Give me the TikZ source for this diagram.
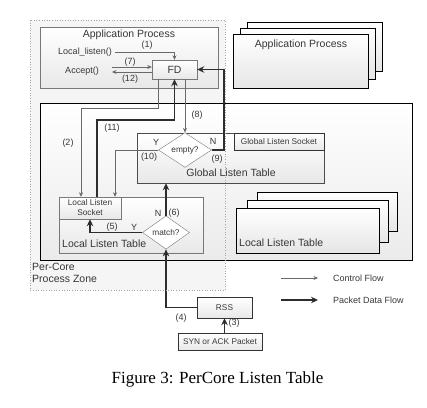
\documentclass[tikz,border=0pt]{standalone}
\usepackage{fontspec}
\setmainfont{Liberation Sans}
\newfontfamily\capfont{Liberation Serif}
\usepackage{tikz}
\usetikzlibrary{shapes.geometric, arrows.meta}
\definecolor{linegray}{RGB}{105,105,105}
\definecolor{boxgray}{RGB}{120,120,120}
\definecolor{txtgray}{RGB}{55,55,55}
\definecolor{datablack}{RGB}{45,45,45}
\newcommand{\figttl}{\fontsize{10.5}{12}\selectfont}
\newcommand{\figlbl}{\fontsize{9}{10}\selectfont}
\newcommand{\figsml}{\fontsize{8.3}{10}\selectfont}
\tikzstyle{box} = [rectangle, 
draw=boxgray, 
top color=white, 
bottom color=black!9, 
inner sep=0pt,
text=txtgray]
\tikzstyle{stackbox} = [rectangle, 
draw=black, 
top color=white, 
bottom color=black!10, 
inner sep=0pt]
\tikzstyle{decision} = [diamond, 
draw=boxgray, 
fill=white, 
inner sep=0pt, 
text=txtgray, 
font=\figsml]
\tikzstyle{lbl} = [text=txtgray, font=\figlbl, inner sep=0pt]
\tikzstyle{ctrl} = [-{Stealth[length=4.5pt, width=4pt]}, draw=linegray, line width=0.6pt]
\tikzstyle{data} = [-{Stealth[length=7pt, width=6.5pt]}, draw=datablack, line width=1.8pt]

\begin{document}
\begin{tikzpicture}[x=1pt, y=-1pt]
		\useasboundingbox (0,0) rectangle (427,407);
		\fill[black!4] (30,20) rectangle (225,290);
		% application side
		\node (app) [box, minimum width=178pt, minimum height=61pt] at (129,57.5) {};
		\node (appt) [lbl, font=\figttl] at (129,35) {Application Process};
		\node (fd) [box, minimum width=45pt, minimum height=19pt, font=\figttl] at (174.5,69.5) {FD};
		\node (lcall) [lbl] at (85,52) {Local\_listen()};
		\node (acall) [lbl] at (82,71) {Accept()};
		\coordinate (a7) at (112,67);
		\coordinate (a12) at (112,72);
		\node (app3) [stackbox, minimum width=135pt, minimum height=49pt] at (314.5,46.5) {};
		\node (app2) [stackbox, minimum width=135pt, minimum height=51pt] at (307.5,53.5) {};
		\node (app1) [stackbox, minimum width=135pt, minimum height=54pt] at (300.5,61) {};
		\node (app1t) [lbl, font=\figttl] at (301,45) {Application Process};
		% core tables
		\node (core) [rectangle, draw=black, top color=white, bottom color=black!8, minimum width=372pt, minimum height=157pt] at (226,181.5) {};
		\node (glt) [box, draw=black!70, minimum width=187pt, minimum height=50pt] at (230.5,158) {};
		\node (gltt) [lbl, font=\figttl] at (231,173) {Global Listen Table};
		\node (gls) [box, draw=black!80, anchor=north east, minimum width=90pt, minimum height=17pt, font=\figsml] at (glt.north east) {Global Listen Socket};
		\node (empty) [decision, minimum width=53pt, minimum height=22pt] at (185,150) {empty?};
		\node (llt) [box, minimum width=144pt, minimum height=56pt] at (131,225) {};
		\node (lltt) [lbl, font=\figttl, anchor=west] at (62,244) {Local Listen Table};
		\node (lls) [box, anchor=north west, minimum width=62pt, minimum height=22pt, align=center, font=\figsml] at (llt.north west) {Local Listen\\Socket};
		\node (match) [decision, minimum width=47pt, minimum height=25pt] at (166,232.5) {match?};
		\node (llt3) [stackbox, minimum width=140pt, minimum height=39pt] at (327.5,211.5) {};
		\node (llt2) [stackbox, minimum width=141pt, minimum height=42pt] at (317.5,221) {};
		\node (llt1) [stackbox, minimum width=143pt, minimum height=45pt] at (307.5,230.5) {};
		\node (llt1t) [lbl, font=\figttl, anchor=west] at (239,243) {Local Listen Table};
		% packet path
		\node (rss) [box, draw=black!80, minimum width=55pt, minimum height=21pt, font=\figsml] at (224.5,307.5) {RSS};
		\node (syn) [box, draw=black!80, minimum width=84pt, minimum height=17pt, font=\figsml] at (220,341.5) {SYN or ACK Packet};
		% legend
		\node (lgc) [lbl, anchor=west] at (333,278) {Control Flow};
		\node (lgd) [lbl, anchor=west] at (333,300) {Packet Data Flow};
		\coordinate (lgc0) at (281,278);
		\coordinate (lgd0) at (281,300);
		% control flow
		\draw [ctrl] ([xshift=3pt]lcall.east) -| (fd.north);
		\draw [ctrl] (a7) -- ([yshift=2.5pt]fd.west);
		\draw [ctrl] ([yshift=-2.5pt]fd.west) -- (a12);
		\coordinate (t2) at (158,108);
		\draw [ctrl] (fd.south -| t2) -- (t2) -| ([xshift=-9pt]lls.north);
		\draw [ctrl] (empty.north |- fd.south) -- (empty.north);
		\draw [ctrl] (empty.west) -| ([xshift=25pt]lls.north);
		\draw [ctrl] (lgc0) -- ([xshift=-15pt]lgc.west);
		% packet data flow
		\draw [data] (rss.south |- syn.north) -- (rss.south);
		\draw [data] (rss.west) -| (match.south);
		\draw [data] (match.west) -| (lls.south);
		\draw [data] (match.north) -- (match.north |- glt.south);
		\draw [data] (empty.east) -- ++(12,0) |- (fd.east);
		\coordinate (k11) at (174.5,120);
		\draw [data] ([xshift=7pt]lls.north) |- (k11) -- (fd.south);
		\draw [data] (lgd0) -- ([xshift=-15pt]lgd.west);
		% step labels
		\node (n1) [lbl] at (147,45) {(1)};
		\node (n7) [lbl] at (130,62) {(7)};
		\node (n12) [lbl] at (130,79) {(12)};
		\node (n8) [lbl] at (197,115) {(8)};
		\node (n2) [lbl] at (68,143) {(2)};
		\node (n11) [lbl] at (112,128) {(11)};
		\node (ey) [lbl] at (156,142) {Y};
		\node (en) [lbl] at (213,141) {N};
		\node (n10) [lbl] at (149,157) {(10)};
		\node (n9) [lbl] at (217,159) {(9)};
		\node (n5) [lbl] at (112,227) {(5)};
		\node (my) [lbl] at (134,227) {Y};
		\node (mn) [lbl] at (158,213) {N};
		\node (n6) [lbl] at (174,213) {(6)};
		\node (n4) [lbl] at (181,318) {(4)};
		\node (n3) [lbl] at (234,323) {(3)};
		% process zone
		\draw [black!35, dotted, line width=0.6pt] (30,20) rectangle (225,290);
		\node (zone) [lbl, font=\figttl, anchor=north west, align=left] at (32,263) {Per-Core\\Process Zone};
		\node (cap) [anchor=base, font=\capfont\fontsize{17}{20}\selectfont] at (217.5,383) {Figure 3: PerCore Listen Table};
	\end{tikzpicture}
\end{document}
